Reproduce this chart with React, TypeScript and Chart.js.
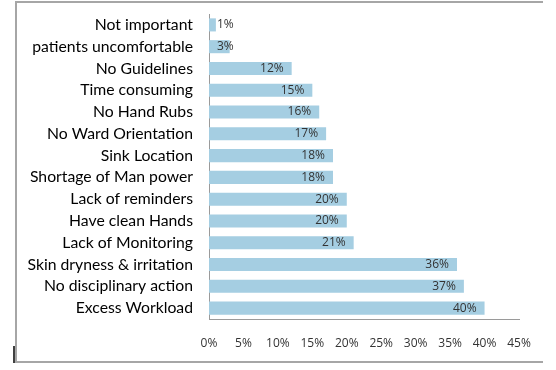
import React, { useEffect, useRef } from "react";
import { Chart, registerables } from "chart.js";

Chart.register(...registerables);

const categories = [
  "Not important",
  "patients uncomfortable",
  "No Guidelines",
  "Time consuming",
  "No Hand Rubs",
  "No Ward Orientation",
  "Sink Location",
  "Shortage of Man power",
  "Lack of reminders",
  "Have clean Hands",
  "Lack of Monitoring",
  "Skin dryness & irritation",
  "No disciplinary action",
  "Excess Workload",
];
const values = [1, 3, 12, 15, 16, 17, 18, 18, 20, 20, 21, 36, 37, 40];
const xMin = 0;
const xMax = 45;
const xStep = 5;

const framePlugin = {
  id: "frame",
  beforeDraw(chart: any) {
    const ctx = chart.ctx;
    ctx.save();
    ctx.fillStyle = "#ffffff";
    ctx.fillRect(0, 0, chart.width, chart.height);
    ctx.strokeStyle = "#a6a6a6";
    ctx.lineWidth = 2;
    ctx.beginPath();
    ctx.moveTo(543, 2);
    ctx.lineTo(16, 2);
    ctx.lineTo(16, 362);
    ctx.lineTo(543, 362);
    ctx.stroke();
    ctx.strokeStyle = "#000000";
    ctx.lineWidth = 1.5;
    ctx.beginPath();
    ctx.moveTo(14, 346);
    ctx.lineTo(14, 363);
    ctx.stroke();
    ctx.restore();
  },
};

const labelPlugin = {
  id: "barLabels",
  afterDatasetsDraw(chart: any) {
    const ctx = chart.ctx;
    const meta = chart.getDatasetMeta(0);
    ctx.save();
    ctx.font = "12px 'Open Sans'";
    ctx.fillStyle = "#333333";
    ctx.textAlign = "right";
    ctx.textBaseline = "middle";
    meta.data.forEach((bar: any, i: number) => {
      const text = values[i] + "%";
      const w = ctx.measureText(text).width;
      const x = Math.max(bar.x - 8, bar.base + 8 + w);
      ctx.fillText(text, x, bar.y);
    });
    ctx.restore();
  },
};

export default function App() {
  const ref = useRef<HTMLCanvasElement | null>(null);
  useEffect(() => {
    if (!ref.current) return;
    const chart = new Chart(ref.current, {
      type: "bar",
      data: {
        labels: categories,
        datasets: [
          {
            data: values,
            backgroundColor: "#a5cee2",
            borderWidth: 0,
            barPercentage: 0.6,
            categoryPercentage: 1,
          },
        ],
      },
      options: {
        indexAxis: "y",
        responsive: false,
        animation: false,
        layout: { padding: { top: 14, right: 37, left: 0, bottom: 0 } },
        plugins: {
          legend: { display: false },
          tooltip: { enabled: false },
        },
        scales: {
          x: {
            min: xMin,
            max: xMax,
            grid: { display: false, drawTicks: false },
            border: { display: true, color: "#9a9a9a", width: 1 },
            ticks: {
              stepSize: xStep,
              padding: 17,
              color: "#333333",
              font: { family: "'Open Sans'", size: 12 },
              callback: (v: any) => v + "%",
            },
            afterFit: (s: any) => {
              s.height = 51;
              s.paddingLeft = 0;
              s.paddingRight = 0;
            },
          },
          y: {
            grid: { display: false, drawTicks: false },
            border: { display: true, color: "#9a9a9a", width: 1 },
            ticks: {
              padding: 16,
              color: "#000000",
              font: { family: "Lato", size: 15.75 },
              autoSkip: false,
            },
            afterFit: (s: any) => {
              s.width = 209;
              s.paddingTop = 0;
              s.paddingBottom = 0;
            },
          },
        },
      },
      plugins: [framePlugin, labelPlugin],
    });
    return () => chart.destroy();
  }, []);
  return (
    <canvas
      ref={ref}
      width={556}
      height={370}
      style={{ position: "fixed", left: 0, top: 0, width: 556, height: 370 }}
    />
  );
}
